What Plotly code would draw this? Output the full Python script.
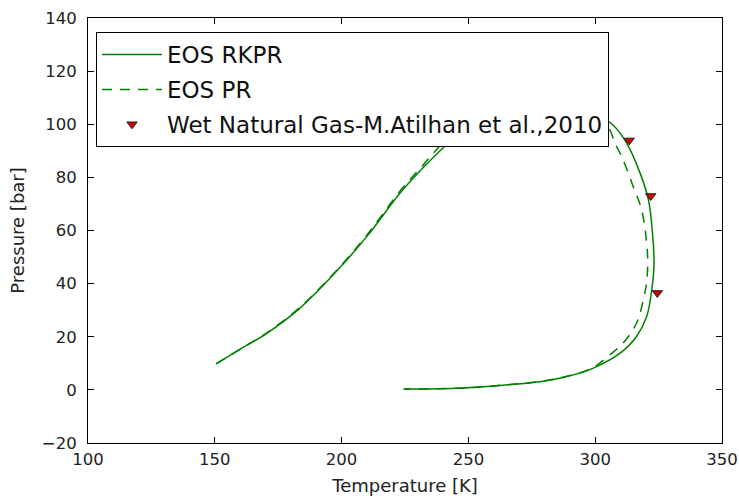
import plotly.graph_objects as go

# EOS RKPR phase envelope (Temperature [K], Pressure [bar])
rkpr_T = [150.5, 160.0, 170.5, 183.6, 196.7, 209.9, 223.0, 232.0, 241.5, 250.0, 262.0, 275.0, 290.0, 300.0,
          306.9, 312.4, 317.7, 321.0, 322.7, 323.2, 322.3, 320.3, 316.3, 309.8, 299.3, 288.8, 278.2, 265.1,
          245.4, 224.5]
rkpr_P = [9.8, 15.3, 21.3, 30.8, 43.3, 57.7, 74.0, 83.5, 92.5, 100.0, 106.0, 109.0, 107.0, 104.0,
          99.8, 92.9, 81.6, 71.5, 57.7, 47.7, 37.7, 27.6, 20.1, 13.8, 8.2, 5.0, 3.1, 1.9,
          0.6, 0.3]

# EOS PR phase envelope
pr_T = [150.5, 160.0, 170.5, 183.6, 196.7, 209.9, 223.0, 232.0, 240.5, 249.0, 261.0, 274.0, 289.0, 299.0,
        305.0, 307.8, 311.0, 315.0, 318.3, 320.3, 320.7, 320.2, 319.0, 316.3, 311.0, 305.0, 299.0, 288.5,
        278.0, 265.0, 245.4, 224.5]
pr_P = [9.8, 15.3, 21.5, 31.1, 43.6, 58.2, 74.8, 84.5, 93.5, 100.5, 106.0, 108.5, 106.0, 102.5,
        99.0, 92.9, 86.6, 76.5, 67.8, 55.2, 47.7, 40.0, 33.9, 25.1, 17.6, 12.6, 8.3, 5.0,
        3.1, 1.9, 0.6, 0.3]

# Experimental data: Wet Natural Gas - M.Atilhan et al., 2010
exp_T = [313.4, 321.9, 324.5]
exp_P = [93.9, 73.0, 36.5]

x_ticks = [100, 150, 200, 250, 300, 350]
y_ticks = [-20, 0, 20, 40, 60, 80, 100, 120, 140]

GREEN = "#008000"
FONT = "DejaVu Sans"

fig = go.Figure()
fig.add_trace(go.Scatter(x=rkpr_T, y=rkpr_P, mode="lines", name="EOS RKPR", legendgroup="a",
                         line=dict(color=GREEN, width=1.5), line_shape="spline"))
fig.add_trace(go.Scatter(x=pr_T, y=pr_P, mode="lines", name="EOS PR", legendgroup="b",
                         line=dict(color=GREEN, width=1.5, dash="10px,8px"), line_shape="spline"))
fig.add_trace(go.Scatter(x=exp_T, y=exp_P, mode="markers", name="Wet Natural Gas-M.Atilhan et al.,2010",
                         legendgroup="c",
                         marker=dict(symbol="triangle-down", size=9, color="#d80000",
                                     line=dict(color="#222222", width=1))))

axis_common = dict(showgrid=False, zeroline=False, showline=True, linecolor="black", linewidth=1,
                   mirror="ticks", ticks="inside", ticklen=6, tickcolor="black", tickwidth=1,
                   automargin=False, ticklabeloverflow="allow",
                   tickfont=dict(family=FONT, size=16.5, color="#222222"))

fig.update_layout(
    template="none",
    width=739, height=499,
    margin=dict(l=88, r=17, t=18, b=56, autoexpand=False),
    paper_bgcolor="white", plot_bgcolor="white",
    font=dict(family=FONT, color="#222222"),
    xaxis=dict(range=[100, 350], tickvals=x_ticks, ticklabelstandoff=1,
               title=dict(text="Temperature [K]", font=dict(family=FONT, size=18), standoff=11),
               **axis_common),
    yaxis=dict(range=[-20, 140], tickvals=y_ticks, ticklabelstandoff=7,
               title=dict(text="Pressure [bar]", font=dict(family=FONT, size=18), standoff=12),
               **axis_common),
    legend=dict(x=0.0126, y=0.967, xanchor="left", yanchor="top",
                bgcolor="white", bordercolor="black", borderwidth=1,
                font=dict(family=FONT, size=23, color="#111111"),
                tracegroupgap=2, itemwidth=60),
    showlegend=True,
)

# remove the default page margin so the figure fills the 739x499 window exactly
fig.write_html("out.html",
               config={"displayModeBar": False},
               post_script="document.body.style.margin='0';document.body.style.overflow='hidden';")
